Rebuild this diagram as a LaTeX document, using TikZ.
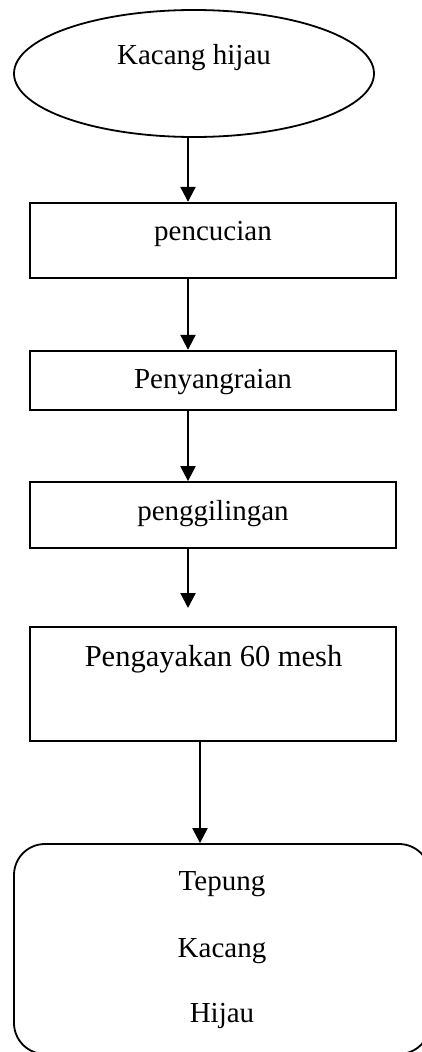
\documentclass[tikz,border=0pt]{standalone}
\usepackage{fontspec}
\setmainfont{Liberation Serif}
\usetikzlibrary{arrows.meta,shapes.geometric}

\tikzset{
  shapeline/.style={draw=black, line width=1.8pt, inner sep=0pt},
  stepbox/.style={shapeline, rectangle, minimum width=366pt},
  startnode/.style={shapeline, ellipse, minimum width=360pt, minimum height=127pt},
  endbox/.style={shapeline, rectangle, rounded corners=31pt, minimum width=416pt, minimum height=210pt},
  txtlabel/.style={anchor=base, inner sep=0pt, font=\fontsize{29}{34}\selectfont},
  bigtxtlabel/.style={txtlabel, font=\fontsize{30.5}{36}\selectfont},
  arr/.style={line width=2.2pt, -{Triangle[width=15pt,length=15pt]}}
}

\begin{document}
\begin{tikzpicture}[x=1pt, y=-1pt]
  \useasboundingbox (0,0) rectangle (421,1052);

  % process shapes
  \node[startnode] (start) at (194,73.5) {};
  \node[stepbox, minimum height=75.3pt] (wash)  at (213,240.35) {};
  \node[stepbox, minimum height=59.3pt] (roast) at (213,380.35) {};
  \node[stepbox, minimum height=66pt]   (grind) at (213,515) {};
  \node[stepbox, minimum height=113.7pt] (sieve) at (213,683.85) {};
  \node[endbox] (flour) at (222,949) {};

  % labels
  \node[txtlabel] (tstart) at (194,64) {Kacang hijau};
  \node[txtlabel] (twash)  at (213,240.7) {pencucian};
  \node[txtlabel] (troast) at (213,388.3) {Penyangraian};
  \node[txtlabel] (tgrind) at (213,520) {penggilingan};
  \node[bigtxtlabel] (tsieve) at (213.5,666) {Pengayakan 60 mesh};
  \node[txtlabel] (tflour1) at (222,890.7) {Tepung};
  \node[txtlabel] (tflour2) at (222,957.3) {Kacang};
  \node[txtlabel] (tflour3) at (222,1022.3) {Hijau};

  % connectors
  \coordinate (gap) at (188,608);
  \draw[arr] ([xshift=-6pt]start.south) -- ([xshift=-25pt]wash.north);
  \draw[arr] ([xshift=-25pt]wash.south) -- ([xshift=-25pt]roast.north);
  \draw[arr] ([xshift=-25pt]roast.south) -- ([xshift=-25pt]grind.north);
  \draw[arr] ([xshift=-25pt]grind.south) -- (gap);
  \draw[arr] ([xshift=-13pt]sieve.south) -- ([xshift=-22pt]flour.north);
\end{tikzpicture}
\end{document}
